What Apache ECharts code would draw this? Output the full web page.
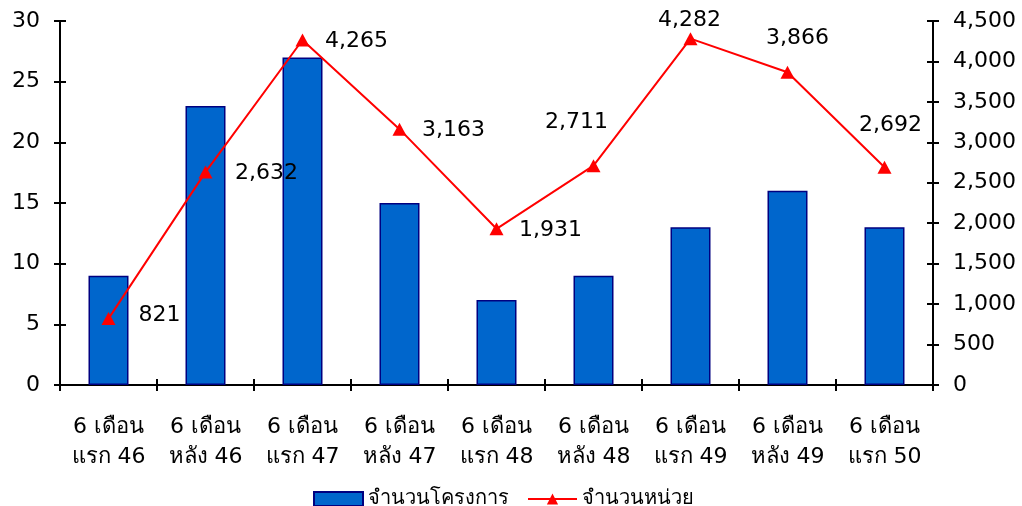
<!DOCTYPE html>
<html><head><meta charset="utf-8">
<script src="https://cdn.jsdelivr.net/npm/echarts@6/dist/echarts.min.js"></script>
<style>html,body{margin:0;padding:0;background:#fff}#c{width:1022px;height:506px}</style>
</head><body><div id="c"></div>
<script>
const categories = ['6 เดือน\nแรก 46','6 เดือน\nหลัง 46','6 เดือน\nแรก 47','6 เดือน\nหลัง 47','6 เดือน\nแรก 48','6 เดือน\nหลัง 48','6 เดือน\nแรก 49','6 เดือน\nหลัง 49','6 เดือน\nแรก 50'];
const projects = [9, 23, 27, 15, 7, 9, 13, 16, 13];
const units = [821, 2632, 4265, 3163, 1931, 2711, 4282, 3866, 2692];
const labelOffsets = [[51,-3],[61,1],[54,1],[54,1],[54,1],[-17,-43],[-1,-18],[10,-34],[6,-42]];
const seriesNames = ['จำนวนโครงการ','จำนวนหน่วย'];

const FONT = "Tahoma, 'DejaVu Sans', sans-serif";
const axisLine = {show:true, lineStyle:{color:'#000', width:2}};
const chart = echarts.init(document.getElementById('c'));
function yAx(pos, max, interval, inside, showLabel, fmt){
  return {type:'value', position:pos, min:0, max:max, interval:interval,
    axisLine:axisLine, splitLine:{show:false},
    axisTick:{show:true, inside:inside, length:6, lineStyle:{color:'#000', width:2}},
    axisLabel:{show:showLabel, color:'#000', fontSize:22, fontFamily:FONT, margin:20, formatter:fmt}};
}
const fmtNum = v => v.toLocaleString('en-US');
chart.setOption({
  animation:false,
  grid:{left:60, right:89, top:21, bottom:121, containLabel:false},
  legend:{top:484, left:308, itemWidth:49, itemHeight:14, itemGap:18,
    textStyle:{fontSize:20, fontFamily:FONT, color:'#000'},
    data:[{name:seriesNames[0], icon:'rect'},{name:seriesNames[1]}]},
  xAxis:[
    {type:'category', data:categories, position:'bottom', axisLine:axisLine,
     axisTick:{show:true, length:6, lineStyle:{color:'#000', width:2}},
     axisLabel:{color:'#000', fontSize:22, fontFamily:FONT, lineHeight:30, margin:27}},
    {type:'category', data:categories, position:'bottom', offset:0, axisLine:axisLine,
     axisTick:{show:true, inside:true, length:6, lineStyle:{color:'#000', width:2}},
     axisLabel:{show:false}}
  ],
  yAxis:[
    yAx('left', 30, 5, false, true),
    yAx('right', 4500, 500, false, true, fmtNum),
    yAx('left', 30, 5, true, false),
    yAx('right', 4500, 500, true, false)
  ],
  series:[
    {name:seriesNames[0], type:'bar', xAxisIndex:0, yAxisIndex:0, data:projects, barWidth:40,
     itemStyle:{color:'#0066CC', borderColor:'#000080', borderWidth:1.5}},
    {name:seriesNames[1], type:'line', xAxisIndex:0, yAxisIndex:1,
     data: units.map((v,i)=>({value:v, label:{offset:labelOffsets[i]}})),
     symbol:'triangle', symbolSize:[14,13], showAllSymbol:true,
     lineStyle:{color:'#FF0000', width:2}, itemStyle:{color:'#FF0000'},
     label:{show:true, position:'inside', align:'center', verticalAlign:'middle',
       color:'#000', fontSize:22, fontFamily:FONT, formatter:p=>fmtNum(p.value)}}
  ]
});
</script></body></html>
